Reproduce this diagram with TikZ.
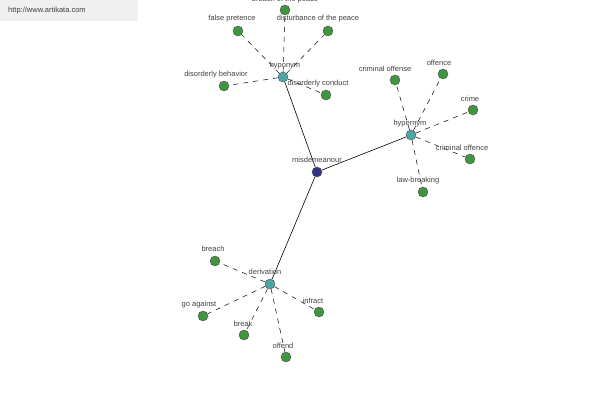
\documentclass[tikz,border=0pt]{standalone}
\usepackage{fontspec}
\setmainfont{Liberation Sans}
\begin{document}
\begin{tikzpicture}[x=1pt,y=-1pt,font=\fontsize{7.5}{8.5}\selectfont,
 dot/.style={circle,draw=black!70,line width=0.4pt,minimum size=10pt,inner sep=0pt},
 leaf/.style={dot,fill=green!45!black!75},
 hub/.style={dot,fill=teal!70!white},
 root/.style={dot,fill=blue!40!black!80},
 lab/.style={text=black!75,inner sep=0pt},
 dl/.style={dashed,dash pattern=on 5pt off 5pt,line width=0.5pt},
 sl/.style={line width=0.6pt}]
\useasboundingbox (0,0) rectangle (600,400);
\fill[black!6] (0,0) rectangle (138,21);
\node[lab,anchor=west] (wm) at (8,11) {http://www.artikata.com};
\node[root] (m) at (317,172) {};
\node[hub] (hypo) at (283,77) {};
\node[hub] (hyper) at (411,135) {};
\node[hub] (der) at (270,284) {};
\draw[sl] (m)--(hypo); \draw[sl] (m)--(hyper); \draw[sl] (m)--(der);
\foreach \n/\x/\y/\lx/\ly/\t in {
 a/285/10/285/0/breach of the peace,
 b/238/31/232/19/false pretence,
 c/328/31/318/19/disturbance of the peace,
 d/224/86/216/75/disorderly behavior,
 e/326/95/318/84/disorderly conduct}{
 \node[leaf] (\n) at (\x,\y) {};
 \draw[dl] (hypo)--(\n);
 \node[lab] at (\lx,\ly) {\t};}
\foreach \n/\x/\y/\lx/\ly/\t in {
 f/395/80/385/69/criminal offense,
 g/443/74/439/63/offence,
 h/473/110/470/99/crime,
 i/470/159/462/148/criminal offence,
 j/423/192/418/181/law-breaking}{
 \node[leaf] (\n) at (\x,\y) {};
 \draw[dl] (hyper)--(\n);
 \node[lab] at (\lx,\ly) {\t};}
\foreach \n/\x/\y/\lx/\ly/\t in {
 k/215/261/213/249/breach,
 l/203/316/199/305/go against,
 o/244/335/243/324/break,
 p/286/357/283/346/offend,
 q/319/312/313/301/infract}{
 \node[leaf] (\n) at (\x,\y) {};
 \draw[dl] (der)--(\n);
 \node[lab] at (\lx,\ly) {\t};}
\node[lab] at (285,66) {hyponym};
\node[lab] at (410,124) {hypernym};
\node[lab] at (265,272) {derivation};
\node[lab] at (317,160) {misdemeanour};
\end{tikzpicture}
\end{document}
